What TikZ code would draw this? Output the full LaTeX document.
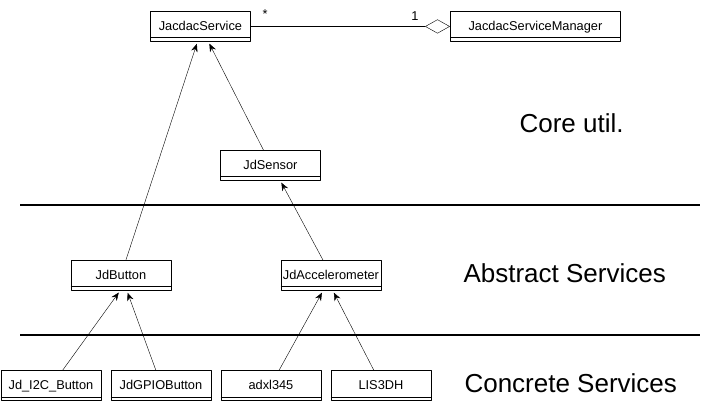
\documentclass[tikz,border=0pt]{standalone}
\usepackage{fontspec}
\setmainfont{Liberation Sans}
\usetikzlibrary{arrows.meta}
\tikzset{
  cls/.style={draw, line width=0.9pt, minimum width=100pt, minimum height=30pt, inner sep=0pt, anchor=north west, text depth=2pt},
  layer/.style={anchor=base west, font=\fontsize{26}{30}\selectfont}
}
\begin{document}
\begin{tikzpicture}[x=1pt, y=-1pt, line join=round, font=\fontsize{12.8}{15}\selectfont, >={Stealth[length=8pt,width=6.5pt]}]
	\useasboundingbox (0,0) rectangle (702,411);
	\def\xl{20} \def\xr{700} \def\yrow{370.5}
	% core
	\node[cls] (svc) at (150,11) {JacdacService};
	\node[cls, minimum width=170pt] (mgr) at (450,11) {JacdacServiceManager};
	\node[cls] (sensor) at (220,150) {JdSensor};
	% abstract
	\node[cls] (btn) at (70.5,260) {JdButton};
	\node[cls] (acc) at (280.5,260) {JdAccelerometer};
	% concrete
	\node[cls] (i2c) at (0.5,\yrow) {Jd\_I2C\_Button};
	\node[cls] (gpio) at (110.5,\yrow) {JdGPIOButton};
	\node[cls] (adxl) at (220.5,\yrow) {adxl345};
	\node[cls] (lis) at (330.5,\yrow) {LIS3DH};
	\foreach \n in {svc,mgr,sensor,btn,acc,i2c,gpio,adxl,lis}
	\draw[line width=0.9pt] ([yshift=4pt]\n.south west) -- ([yshift=4pt]\n.south east);
	% aggregation
	\draw[-{Diamond[open,length=25pt,width=14pt]}] (svc.east) -- (mgr.west);
	\node (many) at (265,14) {*};
	\node (one) at (415,16) {1};
	% generalisation
	\draw[->, shorten >=2pt] ([xshift=5pt]btn.north) -- ([xshift=-3pt]svc.south);
	\draw[->, shorten >=2pt] ([xshift=-7pt]sensor.north) -- ([xshift=8pt]svc.south);
	\draw[->, shorten >=2pt] ([xshift=-8pt]acc.north) -- ([xshift=10pt]sensor.south);
	\draw[->, shorten >=2pt] ([xshift=11.5pt]i2c.north) -- ([xshift=-1pt]btn.south);
	\draw[->, shorten >=2pt] ([xshift=-5pt]gpio.north) -- ([xshift=6pt]btn.south);
	\draw[->, shorten >=2pt] ([xshift=8pt]adxl.north) -- ([xshift=-8pt]acc.south);
	\draw[->, shorten >=2pt] ([xshift=-7pt]lis.north) -- ([xshift=2pt]acc.south);
	% layers
	\draw[line width=1.6pt] (\xl,205) -- (\xr,205);
	\draw[line width=1.6pt] (\xl,335) -- (\xr,335);
	\node[layer] (core) at (516,133) {Core util.};
	\node[layer] (abstr) at (460,283) {Abstract Services};
	\node[layer] (concr) at (461,393) {Concrete Services};
\end{tikzpicture}
\end{document}
